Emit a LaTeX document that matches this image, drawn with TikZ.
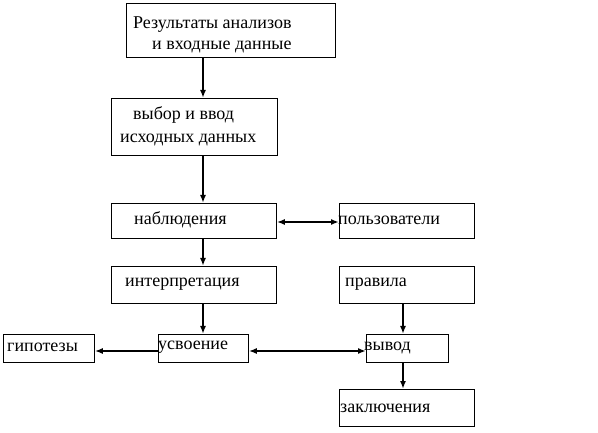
\documentclass[tikz,border=0pt]{standalone}
\usepackage{fontspec}
\setmainfont{Liberation Serif}
\usetikzlibrary{arrows.meta}
\begin{document}
\begin{tikzpicture}[x=1pt,y=-1pt,
  box/.style={draw,line width=0.8pt,anchor=north west,inner sep=0pt},
  lbl/.style={anchor=base west,inner sep=0pt,font=\fontsize{18}{20}\selectfont},
  arr/.style={line width=1.8pt,-{Latex[length=8pt,width=6pt]}},
  darr/.style={line width=1.8pt,{Latex[length=8pt,width=6pt]}-{Latex[length=8pt,width=6pt]}}]
\useasboundingbox (0,0) rectangle (598,433);
\node[box,minimum width=209pt,minimum height=54pt] (b1) at (126,3) {};
\node[box,minimum width=166pt,minimum height=57pt] (b2) at (111,98) {};
\node[box,minimum width=165pt,minimum height=35pt] (b3) at (111,203) {};
\node[box,minimum width=135pt,minimum height=35pt] (b4) at (339,203) {};
\node[box,minimum width=165pt,minimum height=37pt] (b5) at (111,266) {};
\node[box,minimum width=135pt,minimum height=37pt] (b6) at (339,266) {};
\node[box,minimum width=91pt,minimum height=28pt] (b7) at (3,334) {};
\node[box,minimum width=90pt,minimum height=28pt] (b8) at (158,334) {};
\node[box,minimum width=82pt,minimum height=28pt] (b9) at (366,334) {};
\node[box,minimum width=135pt,minimum height=37pt] (b10) at (339,389) {};
\node[lbl] (t1a) at (133,29) {Результаты анализов};
\node[lbl] (t1b) at (152,50) {и  входные данные};
\node[lbl] (t2a) at (133,120) {выбор и ввод};
\node[lbl] (t2b) at (120,143) {исходных данных};
\node[lbl] (t3) at (134,225) {наблюдения};
\node[lbl] (t4) at (338,225) {пользователи};
\node[lbl] (t5) at (125,287) {интерпретация};
\node[lbl] (t6) at (345,287) {правила};
\node[lbl] (t7) at (7,352) {гипотезы};
\node[lbl] (t8) at (158,349) {усвоение};
\node[lbl] (t9) at (364,350) {вывод};
\node[lbl] (t10) at (340,412) {заключения};
\draw[arr] (b1.south -| 203,0) -- (b2.north -| 203,0);
\draw[arr] (b2.south -| 203,0) -- (b3.north -| 203,0);
\draw[arr] (b3.south -| 203,0) -- (b5.north -| 203,0);
\draw[arr] (b5.south -| 203,0) -- (b8.north -| 203,0);
\draw[darr] (b3.east |- 0,222) -- (b4.west |- 0,222);
\draw[arr] (b8.west |- 0,351) -- (b7.east |- 0,351);
\draw[darr] (b8.east |- 0,351) -- (b9.west |- 0,351);
\draw[arr] (b6.south -| 403,0) -- (b9.north -| 403,0);
\draw[arr] (b9.south -| 403,0) -- (b10.north -| 403,0);
\end{tikzpicture}
\end{document}
